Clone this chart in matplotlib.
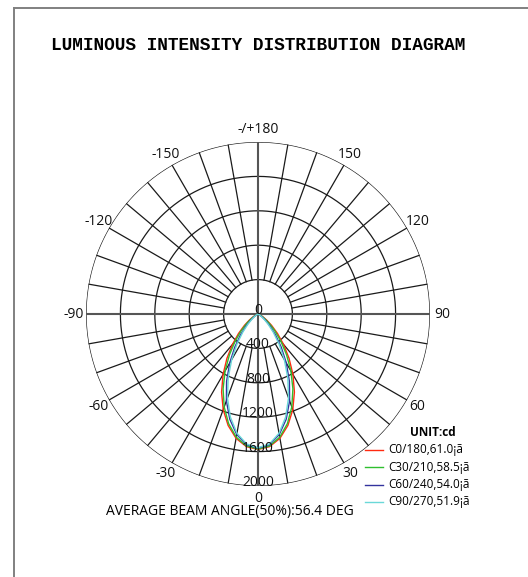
import numpy as np
import matplotlib
matplotlib.use("Agg")
from matplotlib import pyplot as plt
from matplotlib.lines import Line2D

# gamma angles (deg) and intensities (cd), one list per C-plane
gamma = [0, 5, 10, 15, 20, 25, 30, 35, 40, 45, 50, 55, 60, 65, 70, 75, 80, 85, 90]
c0 = [1575, 1548, 1468, 1342, 1183, 1002, 813, 630, 462, 320, 206, 122, 65, 30, 11, 4, 1, 0, 0]
c30 = [1570, 1540, 1454, 1320, 1150, 960, 765, 579, 414, 277, 172, 97, 49, 21, 7, 2, 0, 0, 0]
c60 = [1560, 1525, 1423, 1267, 1074, 864, 658, 471, 315, 195, 110, 56, 24, 9, 2, 0, 0, 0, 0]
c90 = [1555, 1517, 1408, 1241, 1038, 820, 611, 425, 275, 164, 88, 42, 17, 6, 1, 0, 0, 0, 0]

series = [c0, c30, c60, c90]
legend_labels = ["C0/180,61.0¡ã", "C30/210,58.5¡ã", "C60/240,54.0¡ã", "C90/270,51.9¡ã"]
colors = ["#ff2a10", "#2fbf2f", "#33339e", "#6ad8d8"]

rings = [400, 800, 1200, 1600, 2000]
ring_labels = ["0", "400", "800", "1200", "1600", "2000"]
angle_ticks = [0, 30, 60, 90, 120, 150, 180, -150, -120, -90, -60, -30]
angle_labels = ["0", "30", "60", "90", "120", "150", "-/+180", "-150", "-120", "-90", "-60", "-30"]

plt.rcParams['font.family'] = ['Open Sans', 'DejaVu Sans']

fig = plt.figure(figsize=(5.28, 5.77), dpi=100)
W, H = 528, 577

# frame (only top and left edges fall inside the image)
fig.add_artist(Line2D([14 / W, 14 / W], [0, 1 - 8 / H], color="#808080", lw=1.4))
fig.add_artist(Line2D([14 / W, 1], [1 - 8 / H, 1 - 8 / H], color="#808080", lw=1.4))

fig.text(258 / W, 1 - 45 / H, "LUMINOUS INTENSITY DISTRIBUTION DIAGRAM",
         family="Liberation Mono", weight="bold", fontsize=12.8, ha="center", va="center")

# polar axes: centre (258, 314) px, radius 172 px
cx, cy, R = 258, 314, 172
ax = fig.add_axes([(cx - R) / W, 1 - (cy + R) / H, 2 * R / W, 2 * R / H], projection="polar")
ax.set_theta_zero_location("S")
ax.set_theta_direction(1)
ax.set_ylim(0, 2000)
ax.set_axis_off()

t = np.linspace(0, 2 * np.pi, 721)
for r in rings:
    ax.plot(t, np.full_like(t, r), color="#1a1a1a", lw=0.9)
for a in range(0, 360, 10):
    if a % 90:
        ax.plot([np.radians(a)] * 2, [rings[0], rings[-1]], color="#1a1a1a", lw=0.9)
# full diameters
ax.plot([np.pi / 2, 3 * np.pi / 2], [2000, 2000], color="#555555", lw=1.5)
ax.plot([0, np.pi], [2000, 2000], color="#555555", lw=1.5)

g = np.radians(gamma)
theta = np.concatenate([-g[::-1], g[1:]])
for vals, col in zip(series, colors):
    v = np.array(vals, dtype=float)
    ax.plot(theta, np.concatenate([v[::-1], v[1:]]), color=col, lw=1.0)

for val, lab in zip([0] + rings, ring_labels):
    ax.text(0, val, lab, ha="center", va="baseline", fontsize=10, color="#111111")
for a, lab in zip(angle_ticks, angle_labels):
    ax.text(np.radians(a), 2140, lab, ha="center", va="center", fontsize=10, color="#111111")

fig.text(230 / W, 1 - 511 / H, "AVERAGE BEAM ANGLE(50%):56.4 DEG",
         ha="center", va="center", fontsize=10)

fig.text(433 / W, 1 - 432 / H, "UNIT:cd", ha="center", va="center",
         fontsize=8.5, weight="bold")
for i, (lab, col) in enumerate(zip(legend_labels, colors)):
    y = 1 - (450 + 17.3 * i) / H
    fig.add_artist(Line2D([365 / W, 383 / W], [y, y], color=col, lw=1.0))
    fig.text(388 / W, y, lab, ha="left", va="center", fontsize=8.5)

fig.savefig("out.png", dpi=100)
